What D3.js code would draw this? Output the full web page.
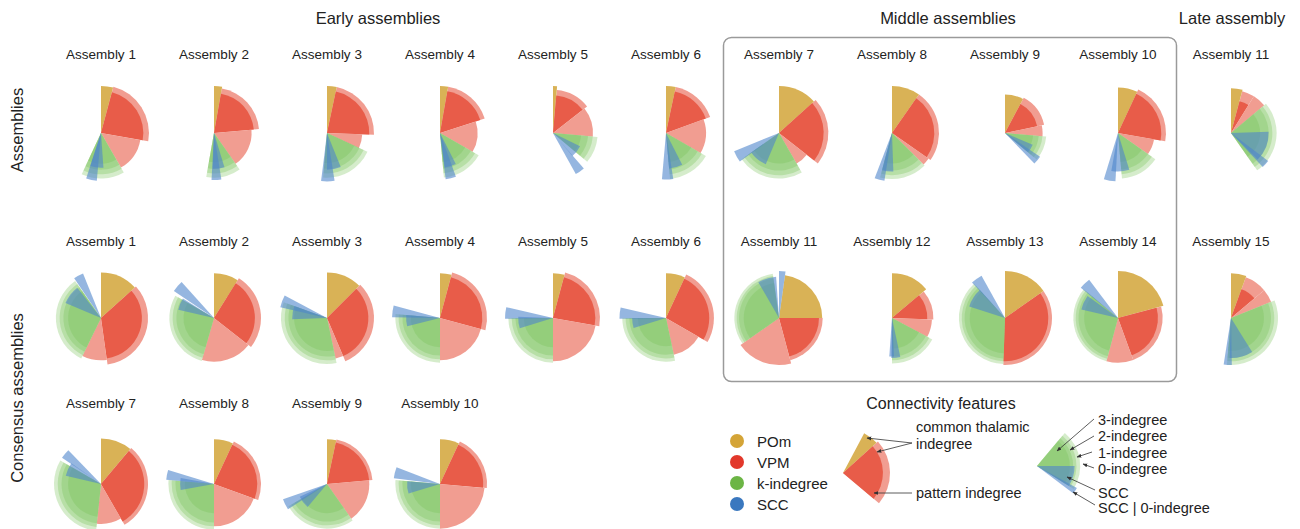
<!DOCTYPE html>
<html>
<head>
<meta charset="utf-8">
<script src="https://cdn.jsdelivr.net/npm/d3@7/dist/d3.min.js"></script>
<style>
  html, body { margin: 0; padding: 0; background: #fff; }
  svg text { font-family: "Liberation Sans", Arial, sans-serif; fill: #222; }
</style>
</head>
<body>
<svg id="chart" width="1300" height="529"></svg>
<script>
"use strict";

//data (angles in degrees clockwise from 12 o'clock, radii as fraction of max)

const asmTitles = ["Assembly 1", "Assembly 2", "Assembly 3", "Assembly 4", "Assembly 5", "Assembly 6",
  "Assembly 7", "Assembly 8", "Assembly 9", "Assembly 10", "Assembly 11"];
const consTitles = ["Assembly 1", "Assembly 2", "Assembly 3", "Assembly 4", "Assembly 5", "Assembly 6",
  "Assembly 7", "Assembly 8", "Assembly 9", "Assembly 10", "Assembly 11", "Assembly 12",
  "Assembly 13", "Assembly 14", "Assembly 15"];
const groupTitles = ["Early assemblies", "Middle assemblies", "Late assembly"];
const legendNames = ["POm", "VPM", "k-indegree", "SCC"];

// POm: [start, end, radius]
const asmPom = [[0, 15, 1.0], [0, 10, 1.0], [0, 12, 1.0], [0, 10, 1.0], [0, 5, 1.0], [0, 12, 1.0],
  [0, 48, 1.0], [0, 35, 1.0], [0, 28, 0.82], [0, 25, 0.97], [0, 15, 0.95]];
// VPM common: [end, radius, pattern rim radius]
const asmVpm = [[100, 0.9, 1.02], [85, 0.85, 0.96], [92, 0.9, 1.0], [72, 0.9, 1.0], [52, 0.8, 0.92],
  [70, 0.9, 1.0], [128, 0.95, 1.05], [125, 0.9, 1.0], [78, 0.7, 0.85], [100, 0.92, 1.02], [32, 0.7, 0.92]];
// VPM pattern: [end, radius]
const asmPat = [[150, 0.85], [145, 0.8], [115, 0.75], [120, 0.8], [95, 0.85], [120, 0.85],
  [150, 0.75], [135, 0.95], [95, 0.8], [125, 0.78], [50, 0.92]];
// k-indegree: [end, r0, r1, r2, r3]
const asmKin = [[205, 0.97, 0.88, 0.78, 0.65], [190, 0.95, 0.86, 0.76, 0.62], [185, 0.95, 0.86, 0.76, 0.64],
  [175, 0.95, 0.86, 0.76, 0.62], [130, 0.95, 0.85, 0.75, 0.6], [175, 0.98, 0.88, 0.78, 0.62],
  [235, 0.97, 0.9, 0.8, 0.65], [195, 0.98, 0.9, 0.8, 0.65], [130, 0.88, 0.8, 0.72, 0.6],
  [175, 0.97, 0.88, 0.78, 0.62], [145, 0.97, 0.88, 0.8, 0.62]];
// SCC: [start, end, radius, strip start, strip end, strip radius]
const asmScc = [[176, 198, 0.74, 185, 198, 1.02], [163, 182, 0.76, 171, 183, 1.0], [158, 180, 0.78, 171, 187, 1.03],
  [153, 172, 0.74, 160, 173, 0.99], [116, 140, 0.64, 139, 151, 1.0], [153, 175, 0.76, 171, 185, 0.99],
  [203, 235, 0.72, 234, 248, 1.03], [178, 195, 0.82, 189, 201, 1.03], [113, 130, 0.64, 124, 136, 0.9],
  [163, 190, 0.82, 183, 197, 1.03], [88, 135, 0.8, 127, 137, 0.99]];

const consPom = [[0, 48, 0.97], [0, 32, 0.95], [0, 45, 0.97], [0, 15, 0.95], [0, 15, 0.95], [0, 25, 0.95],
  [0, 40, 0.97], [0, 25, 0.95], [0, 12, 0.95], [0, 25, 0.95], [8, 90, 0.92], [0, 50, 0.95],
  [0, 55, 1.0], [0, 75, 1.0], [0, 20, 0.95]];
const consVpm = [[172, 0.87, 1.0], [128, 0.87, 1.0], [157, 0.88, 1.0], [105, 0.9, 1.0], [100, 0.9, 1.0],
  [120, 0.92, 1.02], [150, 0.92, 1.0], [110, 0.92, 1.0], [85, 0.9, 0.97], [95, 0.92, 1.0],
  [165, 0.85, 0.93], [92, 0.75, 0.88], [182, 0.92, 1.0], [160, 0.85, 0.95], [50, 0.65, 0.92]];
const consPat = [[206, 0.9], [196, 0.93], [168, 0.88], [180, 0.9], [180, 0.92], [168, 0.8],
  [186, 0.85], [180, 0.9], [145, 0.9], [180, 0.95], [235, 1.0], [118, 0.85],
  [182, 0.92], [195, 0.95], [68, 0.92]];
const consKin = [[325, 0.96, 0.88, 0.8, 0.7], [300, 0.95, 0.88, 0.8, 0.65], [290, 0.98, 0.9, 0.82, 0.7],
  [275, 0.95, 0.88, 0.8, 0.62], [270, 0.95, 0.88, 0.8, 0.62], [270, 0.93, 0.86, 0.78, 0.6],
  [300, 1.0, 0.92, 0.84, 0.7], [275, 0.97, 0.9, 0.82, 0.62], [240, 0.95, 0.88, 0.8, 0.62],
  [275, 0.95, 0.88, 0.8, 0.62], [352, 0.95, 0.9, 0.85, 0.75], [180, 0.97, 0.9, 0.82, 0.65],
  [318, 0.98, 0.92, 0.86, 0.75], [310, 0.95, 0.9, 0.84, 0.72], [185, 1.0, 0.92, 0.85, 0.7]];
const consScc = [[293, 322, 0.82, 326, 338, 1.02], [283, 302, 0.78, 304, 318, 1.03], [268, 290, 0.74, 283, 298, 1.02],
  [256, 275, 0.72, 271, 285, 1.02], [253, 272, 0.74, 269, 283, 1.02], [253, 270, 0.72, 269, 283, 0.99],
  [283, 305, 0.77, 304, 316, 1.0], [260, 280, 0.72, 275, 287, 1.02], [220, 245, 0.64, 237, 251, 0.99],
  [253, 275, 0.7, 277, 291, 0.99], [330, 356, 0.88, 0, 8, 1.0], [168, 181, 0.85, 177, 184, 0.82],
  [288, 318, 0.8, 317, 331, 1.03], [283, 306, 0.8, 309, 323, 1.02], [148, 182, 0.85, 179, 189, 1.0]];

// where each glyph sits: [row, column]
const asmSlots = asmTitles.map((d, i) => [0, i]);
const consSlots = [[1, 0], [1, 1], [1, 2], [1, 3], [1, 4], [1, 5], [2, 0], [2, 1], [2, 2], [2, 3],
  [1, 6], [1, 7], [1, 8], [1, 9], [1, 10]];

// legend example glyphs
const legThal = { pom: [28, 48, 0.96], vpm: [130, 0.85, 1.0] };
const legKin = { kin: [40, 122, 0.92, 0.84, 0.77, 0.7], scc: [90, 122, 0.8, 119, 127, 0.97] };
const legKinLabels = ["3-indegree", "2-indegree", "1-indegree", "0-indegree", "SCC", "SCC | 0-indegree"];

//colors

const col = {
  pom: "#d9b256",
  vpm: "#e85c49",
  pat: "#f19d91",
  kin: "#74c052",
  scc: "#4f86cc",
  legend: ["#d4a437", "#e2382b", "#6cb545", "#3a78bf"]
};

//scales

const svg = d3.select("#chart");
const ang = d3.scaleLinear().domain([0, 360]).range([0, 2 * Math.PI]);
const rad = d3.scaleLinear().domain([0, 1]).range([0, 47]);
const colX = d3.scaleLinear().domain([0, 10]).range([101, 1231]);
const rowY = d3.scaleOrdinal().domain([0, 1, 2]).range([133, 318, 484]);
const titleY = d3.scaleOrdinal().domain([0, 1, 2]).range([59, 246, 408]);

const arc = d3.arc();

function sector(g, a0, a1, r, fill, op) {
  g.append("path")
    .attr("d", arc({ innerRadius: 0, outerRadius: rad(r), startAngle: ang(a0), endAngle: ang(a1) }))
    .attr("fill", fill)
    .attr("fill-opacity", op == null ? 1 : op);
}

function kinLayers(g, a0, a1, radii) {
  radii.forEach((r) => sector(g, a0, a1, r, col.kin, 0.3));
}

function sccSectors(g, s) {
  sector(g, s[0], s[1], s[2], col.scc, 0.6);
  sector(g, s[3], s[4], s[5], col.scc, 0.6);
}

function glyph(x, y, pom, vpm, pat, kin, scc) {
  const g = svg.append("g").attr("transform", `translate(${x},${y})`);
  sector(g, pom[1], vpm[0], vpm[2], col.pat);
  sector(g, pom[0], pom[1], pom[2], col.pom);
  sector(g, pom[1], vpm[0], vpm[1], col.vpm);
  sector(g, vpm[0], pat[0], pat[1], col.pat);
  kinLayers(g, pat[0], kin[0], kin.slice(1));
  sccSectors(g, scc);
}

//box around middle assemblies

svg.append("rect")
  .attr("x", 723.5).attr("y", 37.5)
  .attr("width", 453).attr("height", 344)
  .attr("rx", 8)
  .attr("fill", "none")
  .attr("stroke", "#9a9a9a")
  .attr("stroke-width", 1.5);

//group headers

svg.selectAll(".group")
  .data(groupTitles)
  .enter()
  .append("text")
  .attr("x", (d, i) => [378, 948, 1232][i])
  .attr("y", 24)
  .attr("text-anchor", "middle")
  .attr("font-size", 16.5)
  .text((d) => d);

//row labels

[["Assemblies", 130], ["Consensus assemblies", 398]].forEach(([t, cy]) => {
  svg.append("text")
    .attr("transform", `translate(23,${cy}) rotate(-90)`)
    .attr("text-anchor", "middle")
    .attr("font-size", 16.5)
    .text(t);
});

//glyphs

asmTitles.forEach((t, i) => {
  const [r, c] = asmSlots[i];
  svg.append("text").attr("x", colX(c)).attr("y", titleY(r))
    .attr("text-anchor", "middle").attr("font-size", 13.5).text(t);
  glyph(colX(c), rowY(r), asmPom[i], asmVpm[i], asmPat[i], asmKin[i], asmScc[i]);
});

consTitles.forEach((t, i) => {
  const [r, c] = consSlots[i];
  svg.append("text").attr("x", colX(c)).attr("y", titleY(r))
    .attr("text-anchor", "middle").attr("font-size", 13.5).text(t);
  glyph(colX(c), rowY(r), consPom[i], consVpm[i], consPat[i], consKin[i], consScc[i]);
});

//legend

svg.append("defs").append("marker")
  .attr("id", "arrow")
  .attr("viewBox", "0 0 10 10")
  .attr("refX", 9).attr("refY", 5)
  .attr("markerWidth", 6).attr("markerHeight", 6)
  .attr("orient", "auto")
  .append("path")
  .attr("d", "M0,1L10,5L0,9z")
  .attr("fill", "#333");

svg.append("text")
  .attr("x", 941).attr("y", 409)
  .attr("text-anchor", "middle")
  .attr("font-size", 16)
  .text("Connectivity features");

const leg = svg.append("g");

leg.selectAll("circle")
  .data(legendNames)
  .enter()
  .append("circle")
  .attr("cx", 737)
  .attr("cy", (d, i) => 441 + i * 21)
  .attr("r", 7)
  .attr("fill", (d, i) => col.legend[i]);

leg.selectAll("text")
  .data(legendNames)
  .enter()
  .append("text")
  .attr("x", 757)
  .attr("y", (d, i) => 446.5 + i * 21)
  .attr("font-size", 15)
  .text((d) => d);

// thalamic example
const gt = svg.append("g").attr("transform", "translate(843,473)");
sector(gt, legThal.pom[1], legThal.vpm[0], legThal.vpm[2], col.pat);
sector(gt, legThal.pom[0], legThal.pom[1], legThal.pom[2], col.pom);
sector(gt, legThal.pom[1], legThal.vpm[0], legThal.vpm[1], col.vpm);

[["common thalamic", 432], ["indegree", 449], ["pattern indegree", 498]].forEach(([t, y]) => {
  svg.append("text").attr("x", 916).attr("y", y).attr("font-size", 14.5).text(t);
});

[[[912, 443], [867, 438]], [[912, 443], [877, 452]], [[912, 493], [874, 493]]].forEach(([a, b]) => {
  svg.append("line")
    .attr("x1", a[0]).attr("y1", a[1]).attr("x2", b[0]).attr("y2", b[1])
    .attr("stroke", "#333").attr("stroke-width", 0.8)
    .attr("marker-end", "url(#arrow)");
});

// k-indegree example
const gk = svg.append("g").attr("transform", "translate(1037,466)");
kinLayers(gk, legKin.kin[0], legKin.kin[1], legKin.kin.slice(2));
sccSectors(gk, legKin.scc);

const kinArrows = [[[1094, 419], [1057, 451]], [[1094, 436], [1070, 450]], [[1092, 452], [1077, 457]],
  [[1094, 468], [1083, 464]], [[1095, 490], [1067, 477]], [[1095, 505], [1073, 492]]];

legKinLabels.forEach((t, i) => {
  svg.append("text")
    .attr("x", 1098)
    .attr("y", [425, 441, 458, 474, 498, 513][i])
    .attr("font-size", 14.5)
    .text(t);
  svg.append("line")
    .attr("x1", kinArrows[i][0][0]).attr("y1", kinArrows[i][0][1])
    .attr("x2", kinArrows[i][1][0]).attr("y2", kinArrows[i][1][1])
    .attr("stroke", "#333").attr("stroke-width", 0.8)
    .attr("marker-end", "url(#arrow)");
});
</script>
</body>
</html>
